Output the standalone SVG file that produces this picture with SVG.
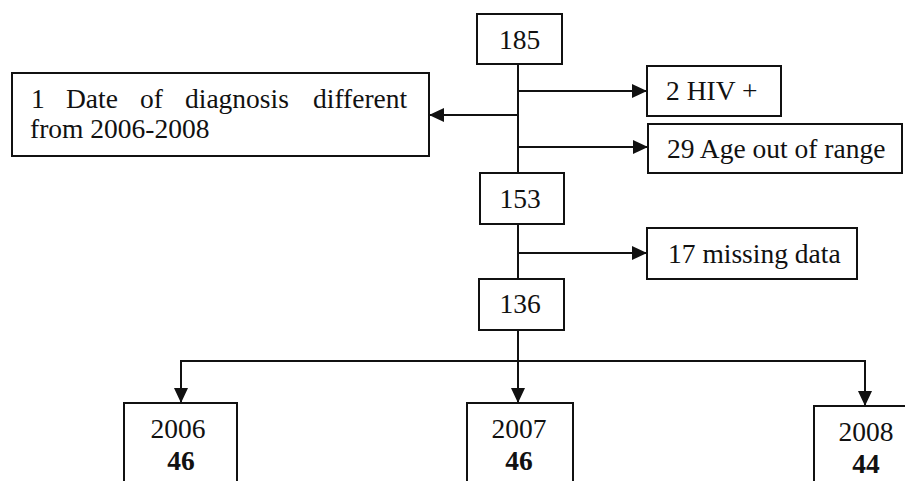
<svg xmlns="http://www.w3.org/2000/svg" width="905" height="481" viewBox="0 0 905 481">
<defs>
<style>
.box{fill:#fff;stroke:#111;stroke-width:2}
.t{font-family:"Liberation Serif","Times New Roman",serif;font-size:27.5px;fill:#111}
.c{text-anchor:middle}
.b{font-weight:bold}
.ln{stroke:#111;stroke-width:2;fill:none}
</style>
<marker id="ah" markerWidth="15" markerHeight="14" refX="15" refY="7" orient="auto" markerUnits="userSpaceOnUse">
<path d="M0,0 L15,7 L0,14 Z" fill="#111"/>
</marker>
</defs>
<rect width="905" height="481" fill="#fff"/>
<g id="connectors">
<line class="ln" x1="518" y1="64" x2="518" y2="173"/>
<line class="ln" x1="518" y1="91" x2="647" y2="91" marker-end="url(#ah)"/>
<line class="ln" x1="518" y1="115" x2="429" y2="115" marker-end="url(#ah)"/>
<line class="ln" x1="518" y1="147" x2="648" y2="147" marker-end="url(#ah)"/>
<line class="ln" x1="518" y1="224" x2="518" y2="279"/>
<line class="ln" x1="518" y1="253" x2="647" y2="253" marker-end="url(#ah)"/>
<line class="ln" x1="518" y1="330" x2="518" y2="403" marker-end="url(#ah)"/>
<polyline class="ln" points="181,380 181,361 865,361 865,380"/>
<line class="ln" x1="181" y1="361" x2="181" y2="403" marker-end="url(#ah)"/>
<line class="ln" x1="865" y1="361" x2="865" y2="406" marker-end="url(#ah)"/>
</g>
<g id="n185">
<rect class="box" x="477" y="14" width="85" height="50"/>
<text class="t c" x="519.5" y="49">185</text>
</g>
<g id="nHIV">
<rect class="box" x="647" y="66" width="134" height="50"/>
<text class="t" x="666" y="100">2 HIV +</text>
</g>
<g id="nDate">
<rect class="box" x="12" y="73" width="417" height="83"/>
<text class="t" y="108"><tspan x="31">1</tspan><tspan x="66">Date</tspan><tspan x="140">of</tspan><tspan x="185">diagnosis</tspan><tspan x="313">different</tspan></text>
<text class="t" x="30" y="138">from 2006-2008</text>
</g>
<g id="nAge">
<rect class="box" x="648" y="124" width="254" height="49"/>
<text class="t" x="667" y="158">29 Age out of range</text>
</g>
<g id="n153">
<rect class="box" x="480" y="173" width="84" height="51"/>
<text class="t c" x="520" y="208">153</text>
</g>
<g id="nMissing">
<rect class="box" x="647" y="228" width="210" height="51"/>
<text class="t" x="668" y="263">17 missing data</text>
</g>
<g id="n136">
<rect class="box" x="479" y="279" width="85" height="51"/>
<text class="t c" x="520" y="313">136</text>
</g>
<g id="n2006">
<rect class="box" x="124" y="403" width="113" height="90"/>
<text class="t c" x="178" y="438">2006</text>
<text class="t c b" x="181" y="470">46</text>
</g>
<g id="n2007">
<rect class="box" x="467" y="403" width="106" height="90"/>
<text class="t c" x="519" y="438">2007</text>
<text class="t c b" x="519" y="470">46</text>
</g>
<g id="n2008">
<rect class="box" x="814" y="406" width="100" height="90"/>
<text class="t c" x="866" y="441">2008</text>
<text class="t c b" x="866" y="473">44</text>
</g>
</svg>
